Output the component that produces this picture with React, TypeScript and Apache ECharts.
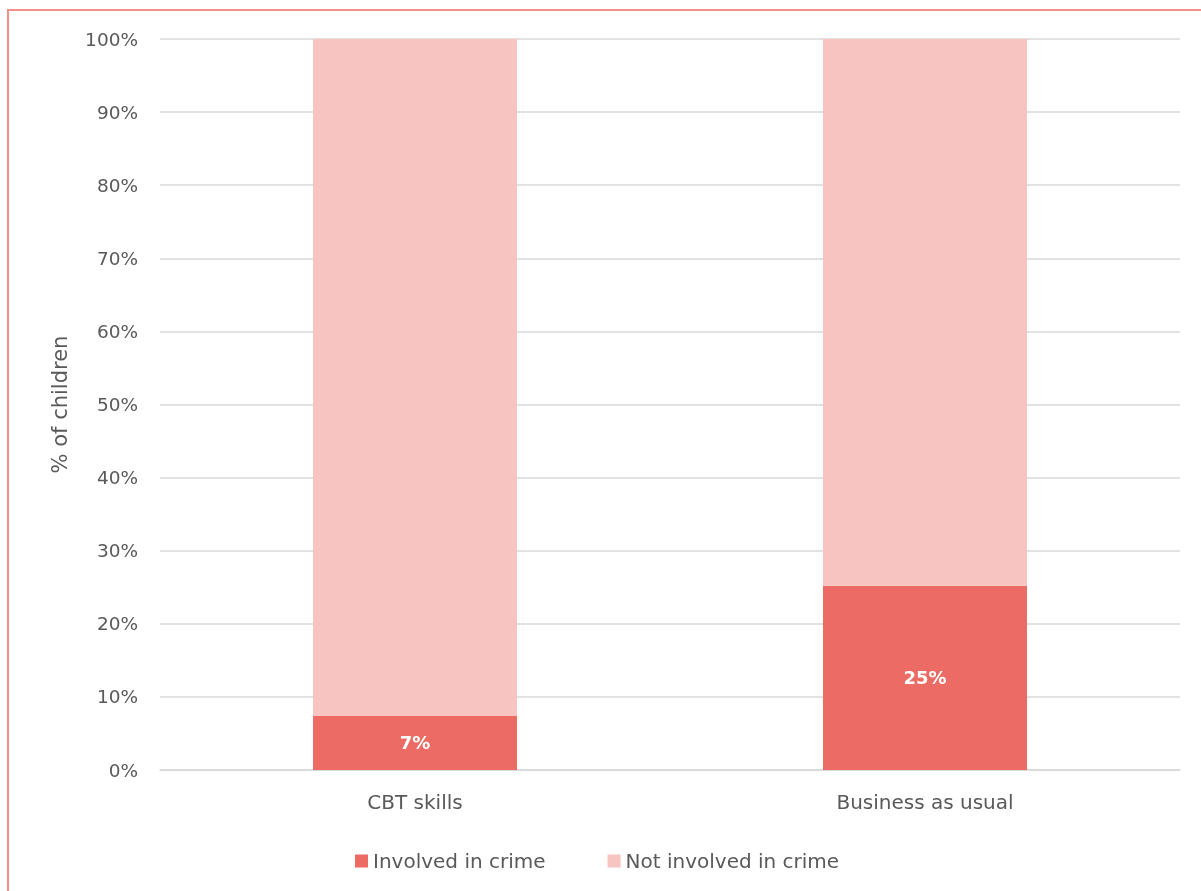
import React, { useEffect, useRef } from "react";
import * as echarts from "echarts";

const categories = ["CBT skills", "Business as usual"];
const involvedValues = [7.4, 25.2];
const notInvolvedValues = [92.6, 74.8];
const seriesNames = ["Involved in crime", "Not involved in crime"];
const yAxisName = "% of children";

const FONT = "'DejaVu Sans', sans-serif";
const TEXT = "#595959";

export default function App() {
  const ref = useRef<HTMLDivElement>(null);
  useEffect(() => {
    if (!ref.current) return;
    const chart = echarts.init(ref.current, undefined, { renderer: "svg" });
    chart.setOption({
      animation: false,
      textStyle: { fontFamily: FONT },
      grid: { left: 160, right: 21, top: 39, bottom: 121 },
      legend: {
        left: 350,
        top: 846,
        itemWidth: 13,
        itemHeight: 13,
        itemGap: 62,
        icon: "rect",
        textStyle: { color: TEXT, fontSize: 20, fontFamily: FONT },
        data: seriesNames,
      },
      xAxis: {
        type: "category",
        data: categories,
        axisLine: { lineStyle: { color: "#D9D9D9", width: 1.5 } },
        axisTick: { show: false },
        axisLabel: { color: TEXT, fontSize: 20, margin: 22 },
      },
      yAxis: {
        type: "value",
        min: 0,
        max: 100,
        interval: 10,
        name: yAxisName,
        nameLocation: "middle",
        nameGap: 90,
        nameTextStyle: { color: TEXT, fontSize: 21 },
        axisLine: { show: false },
        axisTick: { show: false },
        axisLabel: { color: TEXT, fontSize: 18.5, margin: 22, formatter: "{value}%" },
        splitLine: { lineStyle: { color: "#D9D9D9", width: 1.5 } },
      },
      series: [
        {
          name: seriesNames[0],
          type: "bar",
          stack: "total",
          data: involvedValues,
          barWidth: "40%",
          itemStyle: { color: "#EC6B64" },
          label: {
            show: true,
            position: "inside",
            color: "#FFFFFF",
            fontWeight: "bold",
            fontSize: 18,
            formatter: (p: any) => Math.round(p.value) + "%",
          },
        },
        {
          name: seriesNames[1],
          type: "bar",
          stack: "total",
          data: notInvolvedValues,
          barWidth: "40%",
          itemStyle: { color: "#F7C4C1" },
        },
      ],
    });
    return () => chart.dispose();
  }, []);
  return (
    <>
      <div
        style={{
          position: "fixed",
          left: 7,
          top: 9,
          width: 1300,
          height: 1000,
          borderTop: "2px solid #F3908A",
          borderLeft: "2px solid #F3908A",
          boxSizing: "border-box",
        }}
      />
      <div ref={ref} style={{ position: "fixed", left: 0, top: 0, width: 1201, height: 891 }} />
    </>
  );
}
